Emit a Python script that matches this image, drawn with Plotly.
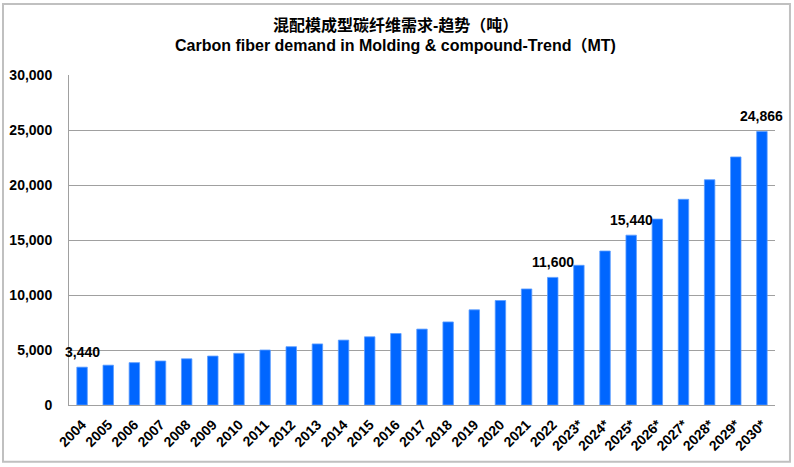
import plotly.graph_objects as go

years = ["2004", "2005", "2006", "2007", "2008", "2009", "2010", "2011", "2012",
         "2013", "2014", "2015", "2016", "2017", "2018", "2019", "2020", "2021",
         "2022", "2023*", "2024*", "2025*", "2026*", "2027*", "2028*", "2029*", "2030*"]
demand = [3440, 3620, 3850, 4000, 4200, 4450, 4700, 5000, 5300,
          5550, 5900, 6200, 6500, 6900, 7550, 8650, 9500, 10550,
          11600, 12700, 14000, 15440, 16900, 18700, 20480, 22550, 24866]
labelled = ["2004", "2022", "2025*", "2030*"]

title_cn = "混配模成型碳纤维需求-趋势（吨）"
title_en = "Carbon fiber demand in Molding & compound-Trend（MT)"

FONT = "Liberation Sans, Arial, Noto Sans CJK SC, sans-serif"

idx = list(range(len(years)))

fig = go.Figure()
fig.add_trace(go.Bar(
    x=idx, y=demand,
    marker=dict(color="#0066FF", line=dict(color="#5C9DFF", width=0.8)),
    width=0.4,
))

for i, (yr, val) in enumerate(zip(years, demand)):
    if yr in labelled:
        fig.add_annotation(x=i, y=val, text=f"<b>{val:,}</b>", showarrow=False,
                           yanchor="bottom", yshift=5,
                           font=dict(family=FONT, size=14, color="#000000"))

fig.add_annotation(xref="paper", yref="paper", x=0.463, y=1.1515,
                   text=f"<b>{title_cn}</b>",
                   showarrow=False, xanchor="center", yanchor="middle",
                   font=dict(family=FONT, size=16, color="#000000"))
fig.add_annotation(xref="paper", yref="paper", x=0.463, y=1.088,
                   text=f"<b>{title_en}</b>",
                   showarrow=False, xanchor="center", yanchor="middle",
                   font=dict(family=FONT, size=16, color="#000000"))

# outer frame
fig.add_shape(type="rect", xref="paper", yref="paper",
              x0=-0.0935, x1=1.0212, y0=-0.172, y1=1.2152,
              line=dict(color="#C0C0C0", width=2), fillcolor="rgba(0,0,0,0)")

fig.update_layout(
    width=794, height=467,
    margin=dict(l=69, r=19, t=75, b=62),
    paper_bgcolor="white", plot_bgcolor="white",
    showlegend=False,
    font=dict(family=FONT, size=14, color="#000000"),
)
fig.update_xaxes(
    range=[-0.5, len(years) - 0.5], automargin=False,
    tickmode="array", tickvals=idx, ticktext=years, tickangle=-45,
    tickfont=dict(family=FONT, size=14, color="#000000", weight="bold"),
    showline=True, linecolor="#A0A0A0", linewidth=1,
    ticks="", showgrid=False, zeroline=False, ticklabelstandoff=5,
)
fig.update_yaxes(
    range=[0, 30000], dtick=5000, tickformat=",d", automargin=False,
    tickfont=dict(family=FONT, size=14, color="#000000", weight="bold"),
    showline=True, linecolor="#A0A0A0", linewidth=1,
    showgrid=True, gridcolor="#A0A0A0", gridwidth=1,
    ticks="", ticklabelstandoff=13, zeroline=False,
)

fig.write_html("out.html", config={"displayModeBar": False},
               post_script="document.body.style.margin='0';document.body.style.overflow='hidden';")
